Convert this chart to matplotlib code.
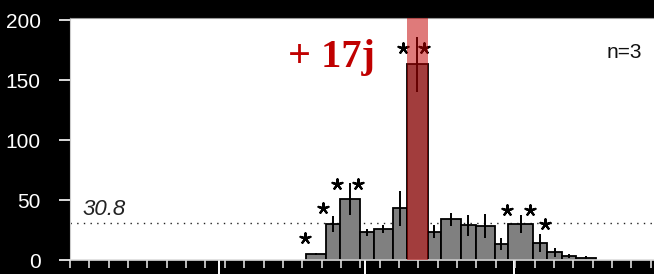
import numpy as np
import matplotlib.pyplot as plt

# bin edges along x (in minor-tick units) and mean values per bin
bin_edges = [12.20, 13.20, 13.95, 14.96, 15.69, 16.69, 17.41, 18.47, 19.18,
             20.19, 20.96, 21.94, 22.63, 23.93, 24.65, 25.43, 26.15, 27.15]
values = [5, 30, 51, 23, 26, 43, 163, 23.6, 34, 29, 28.3, 13.3, 30, 13.9, 6.4, 3.3, 2]
errors = [1, 6.7, 13.5, 3.2, 3.5, 14.3, 23, 5.3, 5.5, 8.6, 10, 4.9, 7.3, 7.6, 3.7, 1.5, 1]
highlight_bin = 6

# significance stars (x, y)
star_x = [12.14, 13.05, 13.81, 14.89, 17.20, 18.29, 22.56, 23.76, 24.54]
star_y = [18.3, 43, 63.3, 63.3, 176.7, 176.7, 41.3, 41.3, 30]

mean_level = 30.8
major_ticks = [7.72, 15.24, 22.92]
y_ticks = [0, 50, 100, 150, 200]

plt.rcParams['font.family'] = ['Liberation Sans', 'DejaVu Sans']

fig = plt.figure(figsize=(6.54, 2.74), dpi=100, facecolor='black')
ax = fig.add_axes([70 / 654, 14 / 274, 1 - 70 / 654, 242 / 274])
ax.set_facecolor('white')

edges = np.array(bin_edges)
lefts = edges[:-1]
widths = np.diff(edges)
centers = lefts + widths / 2

# mean line behind the bars
ax.axhline(mean_level, color='#222222', lw=1.0, ls=(0, (1, 3.8)), zorder=1)
ax.text(0.67, mean_level + 2.5, f'{mean_level}', style='italic', fontsize=16,
        ha='left', va='bottom', color='#222222')

ax.bar(lefts, values, width=widths, align='edge', color='#808080',
       edgecolor='black', linewidth=1.3, zorder=2)
ax.errorbar(centers, values, yerr=errors, fmt='none', ecolor='black',
            elinewidth=1.4, capsize=0, zorder=3)
ax.scatter(star_x, star_y, marker=(5, 2, 0), s=55, color='black',
           linewidths=1.6, zorder=3)

# highlighted bin
ax.axvspan(edges[highlight_bin], edges[highlight_bin + 1], color=(195 / 255, 0, 0),
           alpha=0.52, lw=0, zorder=4)

ax.text(11.26, 161, '+ 17j', color='#c00000', fontsize=29, fontweight='bold',
        family=['Liberation Serif', 'DejaVu Serif'], ha='left', va='baseline')
ax.text(29.55, 173, 'n=3', fontsize=15, ha='right', va='center', color='#111111')

ax.set_xlim(0, 30.17)
ax.set_ylim(0, 201.7)

ax.set_xticks(np.arange(0, 31), minor=True)
ax.set_xticks(major_ticks)
ax.tick_params(axis='x', which='major', direction='out', length=12, width=1.4,
               color='white', labelbottom=False)
ax.tick_params(axis='x', which='minor', direction='out', length=6, width=1.2,
               color='#dddddd')
ax.set_yticks(y_ticks)
ax.tick_params(axis='y', direction='out', length=8, width=1.2, color='white',
               labelcolor='white', labelsize=15, pad=13)

ax.spines['right'].set_visible(False)
ax.spines['top'].set_color('#999999')
ax.spines['top'].set_linewidth(0.8)
ax.spines['left'].set_color('#cccccc')
ax.spines['bottom'].set_color('#dddddd')
ax.spines['bottom'].set_linewidth(1.2)

fig.savefig('out.png', dpi=100, facecolor='black')
